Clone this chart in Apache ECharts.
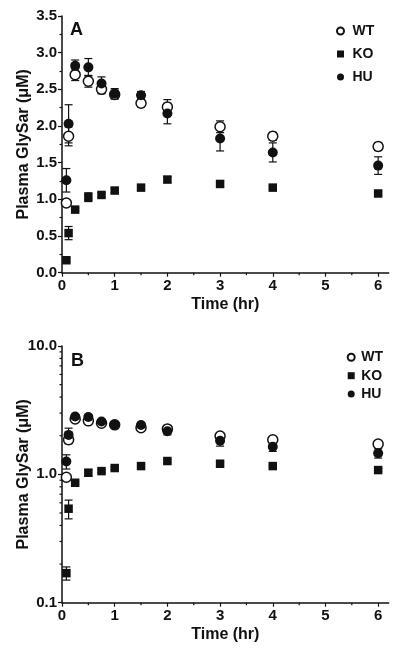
<!DOCTYPE html>
<html>
<head>
<meta charset="utf-8">
<script src="https://cdn.jsdelivr.net/npm/echarts@6/dist/echarts.min.js"></script>
<style>html,body{margin:0;padding:0;background:#fff}#c{width:400px;height:655px}</style>
</head>
<body>
<div id="c"></div>
<script>
const times = [0.083, 0.125, 0.25, 0.5, 0.75, 1, 1.5, 2, 3, 4, 6];
const wtMean = [0.95, 1.86, 2.70, 2.61, 2.50, 2.43, 2.31, 2.26, 1.99, 1.86, 1.72];
const wtSem  = [0.03, 0.13, 0.08, 0.08, 0.06, 0.06, 0.05, 0.10, 0.08, 0.055, 0.055];
const koMean = [0.17, 0.54, 0.86, 1.03, 1.06, 1.12, 1.16, 1.27, 1.21, 1.16, 1.08];
const koSem  = [0.02, 0.09, 0.02, 0.06, 0.03, 0.03, 0.03, 0.04, 0.04, 0.02, 0.03];
const huMean = [1.26, 2.03, 2.82, 2.80, 2.58, 2.44, 2.42, 2.17, 1.83, 1.64, 1.46];
const huSem  = [0.16, 0.26, 0.08, 0.12, 0.09, 0.07, 0.05, 0.14, 0.17, 0.13, 0.12];
const groupNames = ['WT', 'KO', 'HU'];
const xMajorTicks = [0, 1, 2, 3, 4, 5, 6];
const xMinorTicks = [0.5, 1.5, 2.5, 3.5, 4.5, 5.5];
const logMinorTicks = [0.2, 0.3, 0.4, 0.5, 0.6, 0.7, 0.8, 0.9, 2, 3, 4, 5, 6, 7, 8, 9];
const panelLabels = ['A', 'B'];
const yTitle = 'Plasma GlySar (\u03BCM)';
const xTitle = 'Time (hr)';

const FONT = "'Liberation Sans', Arial, sans-serif";
const INK = '#111';

const groups = [
  {name: 'WT', mean: wtMean, sem: wtSem, symbol: 'circle', size: 10, style: {color: '#fff', borderColor: INK, borderWidth: 1.5, opacity: 1}},
  {name: 'KO', mean: koMean, sem: koSem, symbol: 'rect', size: 8.5, style: {color: INK, opacity: 1}},
  {name: 'HU', mean: huMean, sem: huSem, symbol: 'circle', size: 10, style: {color: INK, opacity: 1}}
];
const legendIcons = {WT: 'circle', KO: 'path://M0,0L10,0L10,10L0,10Z', HU: 'circle'};

function errRender(params, api) {
  const x = api.value(0), lo = api.value(1), hi = api.value(2);
  const pl = api.coord([x, lo]), ph = api.coord([x, hi]);
  const hw = 4;
  const st = {stroke: INK, lineWidth: 1.2};
  return {type: 'group', children: [
    {type: 'line', shape: {x1: pl[0], y1: pl[1], x2: ph[0], y2: ph[1]}, style: st},
    {type: 'line', shape: {x1: pl[0] - hw, y1: pl[1], x2: pl[0] + hw, y2: pl[1]}, style: st},
    {type: 'line', shape: {x1: ph[0] - hw, y1: ph[1], x2: ph[0] + hw, y2: ph[1]}, style: st}
  ]};
}

function xMinorRender(yMin) {
  return function (params, api) {
    const p = api.coord([api.value(0), yMin]);
    return {type: 'line', shape: {x1: p[0], y1: p[1], x2: p[0], y2: p[1] + 2.5}, style: {stroke: INK, lineWidth: 1.2}};
  };
}
function yMinorRender(params, api) {
  const p = api.coord([0, api.value(1)]);
  return {type: 'line', shape: {x1: p[0] - 2.5, y1: p[1], x2: p[0], y2: p[1]}, style: {stroke: INK, lineWidth: 1.2}};
}

const gridTops = [16, 346];
const grids = gridTops.map(t => ({left: 62, top: t, width: 326.7, height: 256.7}));

const axisLineStyle = {show: true, lineStyle: {color: INK, width: 1.5}};
const labelStyle = {color: INK, fontFamily: FONT, fontWeight: 'bold', fontSize: 15};
const nameStyle = {color: INK, fontFamily: FONT, fontWeight: 'bold', fontSize: 16};

const xAxes = [0, 1].map(i => ({
  type: 'value', gridIndex: i, min: 0, max: 6.2,
  axisLine: axisLineStyle,
  axisTick: {show: true, inside: false, length: 4, customValues: xMajorTicks, lineStyle: {color: INK, width: 1.2}},
  axisLabel: Object.assign({customValues: xMajorTicks, margin: 6}, labelStyle),
  splitLine: {show: false},
  name: xTitle, nameLocation: 'middle', nameGap: 24, nameMoveOverlap: false, nameTextStyle: nameStyle
}));

const yAxes = [
  {
    type: 'value', gridIndex: 0, min: 0, max: 3.5, interval: 0.5,
    axisLine: axisLineStyle,
    axisTick: {show: true, inside: false, length: 4, lineStyle: {color: INK, width: 1.2}},
    minorTick: {show: true, splitNumber: 2, length: 2.5, lineStyle: {color: INK, width: 1.2}},
    axisLabel: Object.assign({margin: 5, formatter: v => v.toFixed(1)}, labelStyle),
    splitLine: {show: false},
    name: yTitle, nameLocation: 'middle', nameGap: 30, nameMoveOverlap: false, nameTextStyle: nameStyle
  },
  {
    type: 'log', logBase: 10, gridIndex: 1, min: 0.1, max: 10,
    axisLine: axisLineStyle,
    axisTick: {show: true, inside: false, length: 4, lineStyle: {color: INK, width: 1.2}},
    axisLabel: Object.assign({margin: 5, formatter: v => Number(v).toFixed(1)}, labelStyle),
    splitLine: {show: false},
    name: yTitle, nameLocation: 'middle', nameGap: 30, nameMoveOverlap: false, nameTextStyle: nameStyle
  }
];

const series = [];
[0, 1].forEach(p => {
  series.push({
    type: 'custom', name: 'xminor' + p, xAxisIndex: p, yAxisIndex: p, silent: true, clip: false,
    renderItem: xMinorRender(p === 0 ? 0 : 0.1), encode: {x: 0, y: 1},
    data: xMinorTicks.map(v => [v, p === 0 ? 0 : 0.1]), z: 1
  });
  if (p === 1) {
    series.push({
      type: 'custom', name: 'yminor', xAxisIndex: 1, yAxisIndex: 1, silent: true, clip: false,
      renderItem: yMinorRender, encode: {x: 0, y: 1},
      data: logMinorTicks.map(v => [0, v]), z: 1
    });
  }
  groups.forEach(g => {
    series.push({
      type: 'custom', name: g.name + ' err', xAxisIndex: p, yAxisIndex: p, silent: true, clip: false,
      renderItem: errRender, encode: {x: 0, y: [1, 2]},
      data: times.map((t, i) => [t, g.mean[i] - g.sem[i], g.mean[i] + g.sem[i]]), z: 2
    });
  });
  groups.forEach((g, gi) => {
    series.push({
      type: 'scatter', name: g.name, xAxisIndex: p, yAxisIndex: p,
      symbol: g.symbol, symbolSize: g.size, itemStyle: g.style,
      data: times.map((t, i) => [t, g.mean[i]]), z: 3 + gi, silent: true
    });
  });
});

const legendText = {color: INK, fontFamily: FONT, fontWeight: 'bold', fontSize: 14, lineHeight: 16};
const legendData = groupNames.map(n => ({name: n, icon: legendIcons[n]}));
const option = {
  animation: false,
  backgroundColor: '#fff',
  grid: grids,
  xAxis: xAxes,
  yAxis: yAxes,
  legend: [
    {data: legendData, orient: 'vertical', left: 336, top: 23, itemWidth: 14, itemHeight: 7, itemGap: 7,
     selectedMode: false, textStyle: legendText, padding: 0, itemStyle: {opacity: 1}},
    {data: legendData, orient: 'vertical', left: 346.7, top: 349.3, itemWidth: 10, itemHeight: 7, itemGap: 2.4,
     selectedMode: false, textStyle: legendText, padding: 0, itemStyle: {opacity: 1}}
  ],
  graphic: [
    {type: 'text', left: 70, top: 21, style: {text: panelLabels[0], font: 'bold 18px ' + FONT, fill: INK}},
    {type: 'text', left: 71, top: 352, style: {text: panelLabels[1], font: 'bold 18px ' + FONT, fill: INK}}
  ],
  series: series
};
const chart = echarts.init(document.getElementById('c'), null, {renderer: 'canvas'});
chart.setOption(option);
</script>
</body>
</html>
